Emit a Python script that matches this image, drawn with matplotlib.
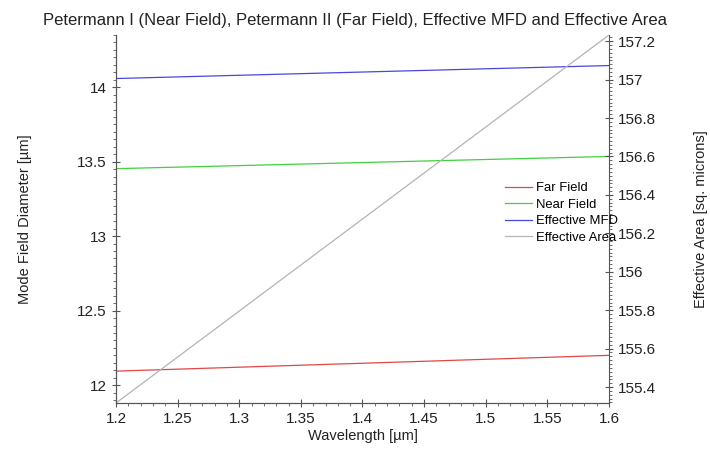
import numpy as np
import matplotlib
matplotlib.use("Agg")
import matplotlib.pyplot as plt
from matplotlib.ticker import MultipleLocator

plt.rcParams['font.family'] = ['Liberation Sans', 'DejaVu Sans']

# Data (straight lines between end points)
wavelength = [1.2, 1.6]
far_field = [12.094, 12.200]
near_field = [13.453, 13.535]
effective_mfd = [14.058, 14.145]
effective_area = [155.317, 157.232]


def main():
    fig = plt.figure(figsize=(7.1, 4.5), dpi=100)
    ax = fig.add_axes([0.1634, 0.1044, 0.6943, 0.8178])
    ax2 = ax.twinx()

    l1, = ax.plot(wavelength, far_field, color='#e04848', lw=0.9, label='Far Field')
    l2, = ax.plot(wavelength, near_field, color='#40d040', lw=0.9, label='Near Field')
    l3, = ax.plot(wavelength, effective_mfd, color='#4848e0', lw=0.9, label='Effective MFD')
    l4, = ax2.plot(wavelength, effective_area, color='#b4b4b4', lw=0.9, label='Effective Area')

    ax.set_xlim(1.2, 1.6)
    ax.set_ylim(11.88, 14.35)
    ax2.set_ylim(155.317, 157.232)

    ax.xaxis.set_major_locator(MultipleLocator(0.05))
    ax.xaxis.set_minor_locator(MultipleLocator(0.01))
    ax.yaxis.set_major_locator(MultipleLocator(0.5))
    ax.yaxis.set_minor_locator(MultipleLocator(0.05))
    ax2.yaxis.set_major_locator(MultipleLocator(0.2))
    ax2.yaxis.set_minor_locator(MultipleLocator(0.02))
    ax.xaxis.set_major_formatter(plt.FuncFormatter(lambda v, p: f'{v:.2f}'.rstrip('0').rstrip('.')))
    ax.yaxis.set_major_formatter(plt.FuncFormatter(lambda v, p: f'{v:.1f}'.rstrip('0').rstrip('.')))
    ax2.yaxis.set_major_formatter(plt.FuncFormatter(lambda v, p: f'{v:.1f}'.rstrip('0').rstrip('.')))

    for a in (ax, ax2):
        a.spines['top'].set_visible(False)
        for s in a.spines.values():
            s.set_color('#555555')
            s.set_linewidth(0.8)
        a.tick_params(which='major', length=6, width=0.8, direction='inout', color='#555555',
                      labelsize=11, labelcolor='#222222')
        a.tick_params(which='minor', length=2.5, width=0.6, color='#555555')
    ax.spines['right'].set_visible(False)

    ax.set_xlabel('Wavelength [µm]', fontsize=10.5, color='#222222', labelpad=2)
    ax.set_ylabel('Mode Field Diameter [µm]', fontsize=10.5, color='#222222', labelpad=33)
    ax2.set_ylabel('Effective Area [sq. microns]', fontsize=10.5, color='#222222', labelpad=27)
    fig.text(0.5, 1 - 20 / 450, 'Petermann I (Near Field), Petermann II (Far Field), Effective MFD and Effective Area',
             ha='center', va='center', fontsize=12, color='#222222')

    ax2.legend(handles=[l1, l2, l3, l4], loc='upper left', bbox_to_anchor=(0.789, 0.600),
               frameon=False, fontsize=9.4, handlelength=2.1, handletextpad=0.3,
               labelspacing=0.33, borderaxespad=0, borderpad=0)

    fig.savefig('out.png', dpi=100)


if __name__ == '__main__':
    main()
